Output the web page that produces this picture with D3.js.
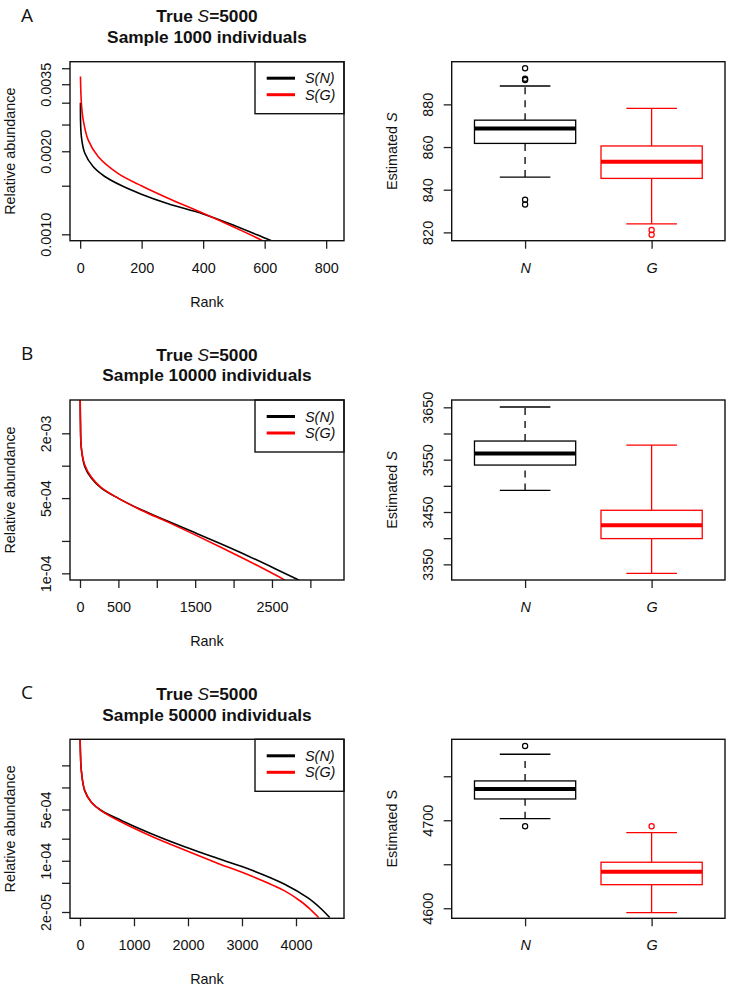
<!DOCTYPE html>
<html>
<head>
<meta charset="utf-8">
<script src="https://cdn.jsdelivr.net/npm/d3@7"></script>
<style>
body { margin: 0; background: #fff; }
svg { display: block; font-family: "Liberation Sans", Arial, sans-serif; }
</style>
</head>
<body>
<svg id="chart" width="731" height="990"></svg>
<script>
// rank / abundance curves, [rank, relative abundance]
var curveA_N = [[1,0.0030],[4,0.00226],[15,0.00197],[42,0.00176],[80,0.00162],[134,0.001502],[199,0.001398],[286,0.001291],[400,0.001185],[503,0.001074],[600,0.00097],[622,0.000948]];
var curveA_G = [[1,0.00373],[4,0.00299],[10,0.0026],[26,0.0022],[59,0.00191],[124,0.00166],[199,0.0015],[286,0.001351],[400,0.001192],[492,0.001072],[584,0.00096],[592,0.00095]];
var curveB_N = [[1,0.0065],[6,0.0025],[17,0.00146],[61,0.000986],[147,0.00077],[278,0.00062],[495,0.0005],[799,0.000389],[1146,0.000304],[1493,0.000239],[1840,0.000187],[2188,0.000145],[2535,0.000111],[2855,0.0000862]];
var curveB_G = [[1,0.007],[6,0.0026],[17,0.00148],[61,0.00102],[147,0.000784],[278,0.000625],[495,0.0005],[799,0.000386],[1146,0.000299],[1493,0.000229],[1840,0.000174],[2188,0.000131],[2535,0.0000976],[2665,0.000087]];
var curveC_N = [[1,0.006],[8,0.003],[25,0.00169],[86,0.000905],[210,0.000628],[395,0.000485],[765,0.000355],[1321,0.000234],[1938,0.000155],[2556,0.000107],[3173,0.0000748],[3790,0.0000479],[4222,0.0000311],[4469,0.000022],[4624,0.0000168]];
var curveC_G = [[1,0.007],[8,0.0031],[25,0.0017],[86,0.00092],[210,0.000628],[395,0.00048],[765,0.000337],[1321,0.000216],[1938,0.00014],[2556,0.000092],[3173,0.000062],[3790,0.0000388],[4099,0.0000276],[4284,0.0000211],[4420,0.0000168]];

// box stats: [lower whisker, Q1, median, Q3, upper whisker]
var boxA_N = [845.9, 861.7, 868.7, 872.6, 888.6];
var boxA_G = [824.0, 845.3, 853.1, 860.5, 878.1];
var boxB_N = [3491.3, 3539.7, 3562.0, 3585.6, 3650.6];
var boxB_G = [3332.8, 3399.2, 3424.7, 3453.3, 3577.9];
var boxC_N = [4701.8, 4724.2, 4735.6, 4744.7, 4775.0];
var boxC_G = [4595.0, 4626.8, 4641.6, 4652.3, 4686.0];
var outA_N = [896.9, 892.0, 891.4, 835.3, 833.1];
var outA_G = [821.1, 818.9];
var outB_N = [];
var outB_G = [];
var outC_N = [4784.4, 4693.2];
var outC_G = [4693.2];

var groupLabels = ["N", "G"];
var legendLabels = ["S(N)", "S(G)"];
var sampleSizes = ["1000", "10000", "50000"];
var panelLetters = ["A", "B", "C"];

// tick values and which of them carry labels
var xTicksA = [0, 200, 400, 600, 800], xLabelsA = [0, 200, 400, 600, 800];
var xTicksB = [0, 500, 1000, 1500, 2000, 2500, 3000], xLabelsB = [0, 500, 1500, 2500];
var xTicksC = [0, 1000, 2000, 3000, 4000], xLabelsC = [0, 1000, 2000, 3000, 4000];
var yTicksA = [0.001, 0.0015, 0.002, 0.0025, 0.003, 0.0035, 0.004], yLabelsA = [0.001, 0.002, 0.0035];
var yTicksB = [0.0001, 0.0002, 0.0005, 0.001, 0.002], yLabelsB = [0.0001, 0.0005, 0.002];
var yTicksC = [0.00002, 0.00005, 0.0001, 0.0002, 0.0005, 0.001, 0.002], yLabelsC = [0.00002, 0.0001, 0.0005];
var sTicksA = [820, 840, 860, 880], sLabelsA = [820, 840, 860, 880];
var sTicksB = [3350, 3400, 3450, 3500, 3550, 3600, 3650], sLabelsB = [3350, 3450, 3550, 3650];
var sTicksC = [4600, 4650, 4700, 4750], sLabelsC = [4600, 4700];

var colors = ["#000", "#f00"];
var fs = 14.4;
var svg = d3.select("#chart");

var fmtFixed = d3.format(".4f");
function fmtSci(d) {
  var e = Math.floor(Math.log10(d) + 1e-9);
  var m = Math.round(d / Math.pow(10, e));
  return m + "e-" + String(-e).padStart(2, "0");
}

function frame(x0, x1, y0, y1) {
  svg.append("rect").attr("x", x0).attr("y", y0)
    .attr("width", x1 - x0).attr("height", y1 - y0)
    .attr("fill", "none").attr("stroke", "#111").attr("stroke-width", 1.4);
}

function xAxis(x, yPos, ticks, labels, fmt, italic) {
  var ax = svg.append("g").attr("transform", "translate(0," + yPos + ")")
    .call(d3.axisBottom(x).tickValues(ticks).tickSize(8).tickSizeOuter(0)
      .tickFormat(function(d) { return labels.indexOf(d) >= 0 ? fmt(d) : ""; }));
  ax.attr("font-size", null).attr("font-family", null);
  ax.select(".domain").remove();
  ax.selectAll("line").attr("stroke", "#222").attr("stroke-width", 1.3);
  ax.selectAll("text").attr("y", 32).attr("dy", null).attr("fill", "#111")
    .style("font-size", fs + "px").style("font-style", italic ? "italic" : "normal");
}

function yAxis(y, xPos, ticks, labels, fmt) {
  var ax = svg.append("g").attr("transform", "translate(" + xPos + ",0)")
    .call(d3.axisLeft(y).tickValues(ticks).tickSize(8).tickSizeOuter(0)
      .tickFormat(function(d) { return labels.indexOf(d) >= 0 ? fmt(d) : ""; }));
  ax.attr("font-size", null).attr("font-family", null);
  ax.select(".domain").remove();
  ax.selectAll("line").attr("stroke", "#222").attr("stroke-width", 1.3);
  ax.selectAll("text").attr("x", null).attr("dy", null).attr("fill", "#111")
    .attr("text-anchor", "middle").attr("transform", "translate(-19,0) rotate(-90)")
    .style("font-size", fs + "px");
}

function yTitle(xPos, yMid, parts) {
  var t = svg.append("text").attr("transform", "translate(" + xPos + "," + yMid + ") rotate(-90)")
    .attr("text-anchor", "middle").attr("fill", "#111").style("font-size", fs + "px");
  parts.forEach(function(p) {
    t.append("tspan").text(p[0]).style("font-style", p[1] ? "italic" : "normal");
  });
}

function rankPanel(i, top, bottom, xDomain, yDomain, curves, xTicks, xLabels, yTicks, yLabels, yFmt) {
  var x0 = 70, x1 = 344;
  var x = d3.scaleLinear().domain(xDomain).range([x0, x1]);
  var y = d3.scaleLog().domain(yDomain).range([bottom, top]);

  // panel letter and title
  svg.append("text").attr("x", 21).attr("y", top - 40).attr("fill", "#111")
    .style("font-family", "'Open Sans', 'Noto Sans', sans-serif").style("font-size", "19px")
    .text(panelLetters[i]);
  var t1 = svg.append("text").attr("x", (x0 + x1) / 2).attr("y", top - 39.5)
    .attr("text-anchor", "middle").attr("fill", "#111")
    .style("font-size", "17.3px").style("font-weight", "bold");
  t1.append("tspan").text("True ");
  t1.append("tspan").text("S").style("font-style", "italic").style("font-weight", "normal");
  t1.append("tspan").text("=5000");
  svg.append("text").attr("x", (x0 + x1) / 2).attr("y", top - 18.8)
    .attr("text-anchor", "middle").attr("fill", "#111")
    .style("font-size", "17.3px").style("font-weight", "bold")
    .text("Sample " + sampleSizes[i] + " individuals");

  var clipId = "clip" + i;
  svg.append("clipPath").attr("id", clipId).append("rect")
    .attr("x", x0).attr("y", top).attr("width", x1 - x0).attr("height", bottom - top);

  var line = d3.line()
    .x(function(d) { return x(d[0]); })
    .y(function(d) { return y(d[1]); })
    .curve(d3.curveCatmullRom.alpha(0.5));

  svg.append("g").attr("clip-path", "url(#" + clipId + ")")
    .selectAll("path").data(curves).enter().append("path")
    .attr("d", line).attr("fill", "none")
    .attr("stroke", function(d, k) { return colors[k]; })
    .attr("stroke-width", 1.6);

  xAxis(x, bottom, xTicks, xLabels, function(d) { return String(d); }, false);
  yAxis(y, x0, yTicks, yLabels, yFmt);

  // legend
  var lx = 255, lh = 52;
  svg.append("rect").attr("x", lx).attr("y", top).attr("width", x1 - lx).attr("height", lh)
    .attr("fill", "#fff").attr("stroke", "#111").attr("stroke-width", 1.4);
  var rows = svg.selectAll(null).data(legendLabels).enter().append("g")
    .attr("transform", function(d, k) { return "translate(0," + (top + 16.5 + k * 16.5) + ")"; });
  rows.append("line").attr("x1", 266.7).attr("x2", 295)
    .attr("stroke", function(d, k) { return colors[k]; }).attr("stroke-width", 3);
  rows.append("text").attr("x", 305).attr("y", 5).attr("fill", "#111")
    .style("font-size", fs + "px").style("font-style", "italic")
    .text(function(d) { return d; });

  frame(x0, x1, top, bottom);

  yTitle(15, (top + bottom) / 2, [["Relative abundance", false]]);
  svg.append("text").attr("x", (x0 + x1) / 2).attr("y", bottom + 66)
    .attr("text-anchor", "middle").attr("fill", "#111").style("font-size", fs + "px")
    .text("Rank");
}

function boxPanel(i, top, bottom, yDomain, stats, outs, yTicks, yLabels, italicS) {
  var x0 = 451.7, x1 = 725;
  var x = d3.scaleLinear().domain([0.42, 2.58]).range([x0, x1]);
  var y = d3.scaleLinear().domain(yDomain).range([bottom, top]);
  var hw = x(0.4) - x(0);

  stats.forEach(function(s, k) {
    var cx = x(k + 1), col = colors[k];
    var g = svg.append("g");
    // whiskers
    [[s[0], s[1]], [s[3], s[4]]].forEach(function(w) {
      g.append("line").attr("x1", cx).attr("x2", cx).attr("y1", y(w[0])).attr("y2", y(w[1]))
        .attr("stroke", col).attr("stroke-width", 1.3)
        .attr("stroke-dasharray", k === 0 ? "7,6" : null);
    });
    [s[0], s[4]].forEach(function(v) {
      g.append("line").attr("x1", cx - hw / 2).attr("x2", cx + hw / 2)
        .attr("y1", y(v)).attr("y2", y(v)).attr("stroke", col).attr("stroke-width", 1.3);
    });
    g.append("rect").attr("x", cx - hw).attr("y", y(s[3]))
      .attr("width", 2 * hw).attr("height", y(s[1]) - y(s[3]))
      .attr("fill", "#fff").attr("stroke", col).attr("stroke-width", 1.3);
    g.append("line").attr("x1", cx - hw).attr("x2", cx + hw)
      .attr("y1", y(s[2])).attr("y2", y(s[2])).attr("stroke", col).attr("stroke-width", 4);
    g.selectAll("circle").data(outs[k]).enter().append("circle")
      .attr("cx", cx).attr("cy", function(d) { return y(d); }).attr("r", 2.6)
      .attr("fill", "none").attr("stroke", col).attr("stroke-width", 1.2);
  });

  xAxis(x, bottom, [1, 2], [1, 2], function(d) { return groupLabels[d - 1]; }, true);
  yAxis(y, x0, yTicks, yLabels, function(d) { return String(d); });
  frame(x0, x1, top, bottom);
  yTitle(396.7, (top + bottom) / 2, [["Estimated ", false], ["S", italicS]]);
}

rankPanel(0, 61.7, 240.7, [-33, 858], [0.000948, 0.004224], [curveA_N, curveA_G],
  xTicksA, xLabelsA, yTicksA, yLabelsA, fmtFixed);
rankPanel(1, 400, 580, [-130.2, 3438], [0.0000867, 0.004078], [curveB_N, curveB_G],
  xTicksB, xLabelsB, yTicksB, yLabelsB, fmtSci);
rankPanel(2, 739.3, 918.3, [-185, 4889], [0.00001641, 0.004535], [curveC_N, curveC_G],
  xTicksC, xLabelsC, yTicksC, yLabelsC, fmtSci);

boxPanel(0, 61.7, 240.7, [816.1, 900], [boxA_N, boxA_G], [outA_N, outA_G], sTicksA, sLabelsA, true);
boxPanel(1, 400, 580, [3320.1, 3664], [boxB_N, boxB_G], [outB_N, outB_G], sTicksB, sLabelsB, true);
boxPanel(2, 739.3, 918.3, [4588.6, 4792], [boxC_N, boxC_G], [outC_N, outC_G], sTicksC, sLabelsC, false);
</script>
</body>
</html>
